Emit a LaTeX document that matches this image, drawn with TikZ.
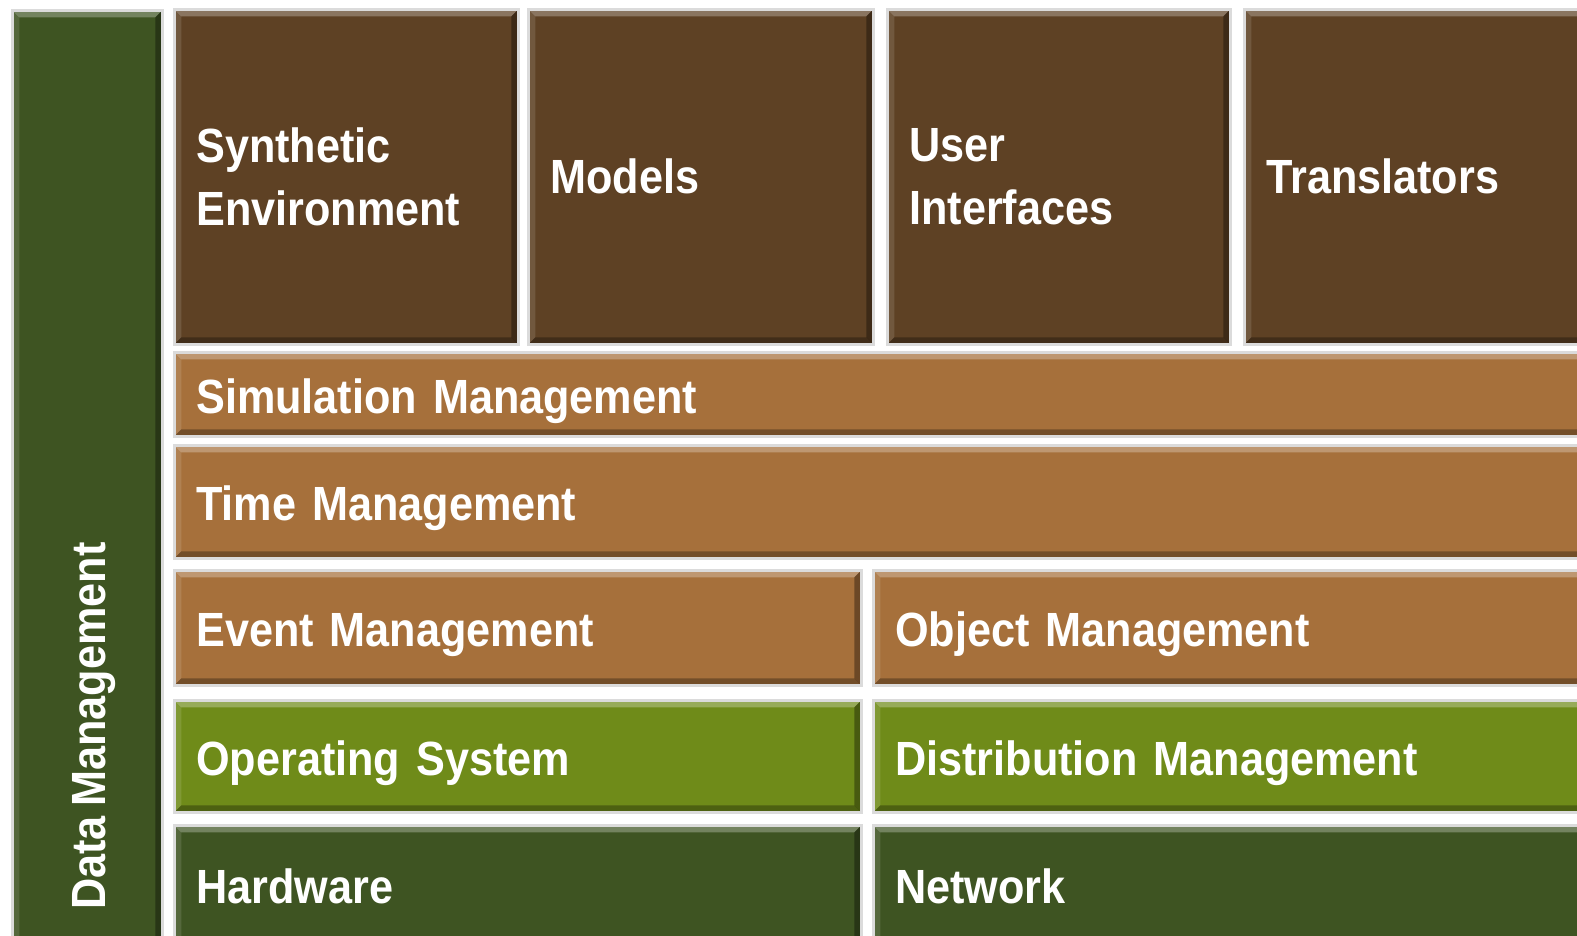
\documentclass[tikz,border=0pt]{standalone}
\usepackage{fontspec}
\setmainfont{Liberation Sans}[FakeStretch=0.9, WordSpace=0.8]
\usetikzlibrary{positioning}
\definecolor{darkbrown}{HTML}{5E4124}
\definecolor{midbrown}{HTML}{A6703B}
\definecolor{olive}{HTML}{6F8B19}
\definecolor{forest}{HTML}{3E5422}

\begin{document}
\begin{tikzpicture}[x=1pt, y=-1pt,
  blk/.style={draw=gray!28, line width=2.5pt, fill=#1, rectangle, inner xsep=22pt,
              inner ysep=0pt, anchor=north west, align=left, text=white,
              font=\fontsize{48}{63}\selectfont\bfseries,
              path picture={
                \fill[white, opacity=.28] (path picture bounding box.north west)
                  -- (path picture bounding box.north east)
                  -- ([shift={(-7pt,-7pt)}]path picture bounding box.north east)
                  -- ([shift={(7pt,-7pt)}]path picture bounding box.north west) -- cycle;
                \fill[white, opacity=.12] (path picture bounding box.north west)
                  -- ([shift={(7pt,-7pt)}]path picture bounding box.north west)
                  -- ([shift={(7pt,7pt)}]path picture bounding box.south west)
                  -- (path picture bounding box.south west) -- cycle;
                \fill[black, opacity=.3] (path picture bounding box.south west)
                  -- (path picture bounding box.south east)
                  -- ([shift={(-7pt,7pt)}]path picture bounding box.south east)
                  -- ([shift={(7pt,7pt)}]path picture bounding box.south west) -- cycle;
                \fill[black, opacity=.35] (path picture bounding box.north east)
                  -- (path picture bounding box.south east)
                  -- ([shift={(-7pt,7pt)}]path picture bounding box.south east)
                  -- ([shift={(-7pt,-7pt)}]path picture bounding box.north east) -- cycle;
              }},
  oneline/.style={text height=38pt, text depth=0pt},
  lbl/.style={text=white, inner sep=0pt, font=\fontsize{48}{63}\selectfont\bfseries},
  ]
  \useasboundingbox (0,0) rectangle (1577,935);
  \fill[white] (0,0) rectangle (1577,935);
  \clip (0,0) rectangle (1577,935);

  % data management column
  \node[blk=forest, minimum width=150pt, minimum height=941pt] (dm) at (11,9) {};
  \node[lbl, rotate=90, anchor=base west] (dmtext) at (105,910) {Data Management};

  % top row
  \node[blk=darkbrown, text width=300pt, minimum height=335pt] (synth) at (173,8)
        {Synthetic\\Environment};
  \node[blk=darkbrown, text width=301pt, minimum height=335pt] (models) at (527,8)
        {Models};
  \node[blk=darkbrown, text width=299pt, minimum height=335pt] (ui) at (886,8)
        {User\\Interfaces};
  \node[blk=darkbrown, text width=313pt, minimum height=335pt] (trans) at (1243,8)
        {Translators};

  % management layers
  \node[blk=midbrown, oneline, text width=1383pt, minimum height=84pt] (sim) at (173,351)
        {Simulation Management};
  \node[blk=midbrown, oneline, text width=1383pt, minimum height=113pt] (time) at (173,444)
        {Time Management};
  \node[blk=midbrown, oneline, text width=643pt, minimum height=115pt] (event) at (173,569)
        {Event Management};
  \node[blk=midbrown, oneline, text width=684pt, minimum height=115pt] (object) at (872,569)
        {Object Management};

  % platform
  \node[blk=olive, oneline, text width=643pt, minimum height=112pt] (os) at (173,699)
        {Operating System};
  \node[blk=olive, oneline, text width=684pt, minimum height=112pt] (dist) at (872,699)
        {Distribution Management};
  \node[blk=forest, oneline, text width=643pt, minimum height=118pt] (hw) at (173,824)
        {Hardware};
  \node[blk=forest, oneline, text width=684pt, minimum height=118pt] (net) at (872,824)
        {Network};
\end{tikzpicture}
\end{document}
